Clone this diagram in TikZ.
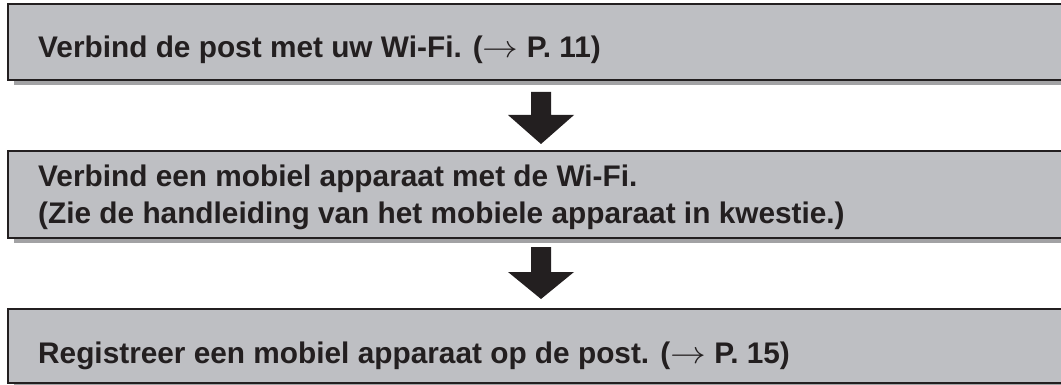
\RequirePackage{fix-cm}
\documentclass[tikz,border=0pt]{standalone}
\usepackage{fontspec}
\usepackage{graphicx}
\setmainfont{Liberation Sans}
\definecolor{boxfill}{HTML}{BEBFC3}
\definecolor{ink}{HTML}{231F20}
\definecolor{shade}{HTML}{A2A2A4}
\newcommand{\seearrow}{\scalebox{1.2}[1.05]{$\rightarrow$}}
\begin{document}
\begin{tikzpicture}[x=1pt,y=-1pt,
  stepbox/.style={fill=boxfill,draw=ink,line width=2pt},
  shadowbox/.style={fill=shade},
  label/.style={anchor=base west,inner sep=0pt,text=ink,font=\fontsize{29.8}{37}\selectfont\bfseries},
  blockarrow/.style={fill=ink}]
\useasboundingbox (0,0) rectangle (1061,385);
\clip (0,0) rectangle (1061,385);
% box 1
\fill[shadowbox] (14,8) rectangle (1075,85);
\draw[stepbox] (8,4) rectangle (1075,80);
\node[label] (t1) at (38,58) {Verbind de post met uw Wi-Fi. (\seearrow\ P. 11)};
% box 2
\fill[shadowbox] (14,155) rectangle (1075,243);
\draw[stepbox] (8,151) rectangle (1075,238);
\node[label] (t2a) at (38,186) {Verbind een mobiel apparaat met de Wi-Fi.};
\node[label] (t2b) at (38,223) {(Zie de handleiding van het mobiele apparaat in kwestie.)};
% box 3
\fill[shadowbox] (14,313) rectangle (1075,390);
\draw[stepbox] (8,309) rectangle (1075,383);
\node[label] (t3) at (38,363) {Registreer een mobiel apparaat op de post. (\seearrow\ P. 15)};
% arrows
\coordinate (a1) at (541,92);
\coordinate (a2) at (541,247);
\fill[blockarrow] (a1) ++(-10,0) -- ++(0,23) -- ++(-23,0) -- (541,144) -- (574,115) -- ++(-23,0) -- ++(0,-23) -- cycle;
\fill[blockarrow] (a2) ++(-10,0) -- ++(0,25) -- ++(-23,0) -- (541,299) -- (574,272) -- ++(-23,0) -- ++(0,-25) -- cycle;
\end{tikzpicture}
\end{document}
